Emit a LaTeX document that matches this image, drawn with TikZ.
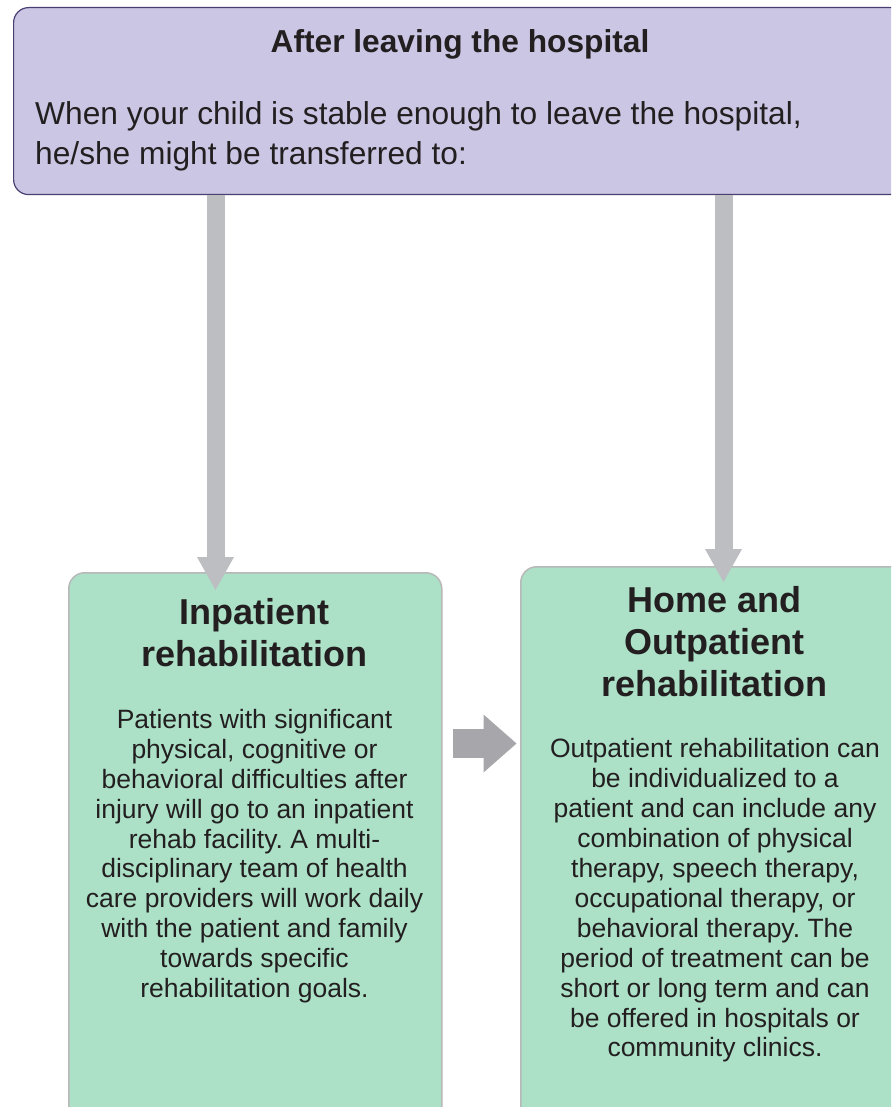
\documentclass[tikz,border=0pt]{standalone}
\usepackage{fontspec}
\setmainfont{Liberation Sans}
\usetikzlibrary{arrows.meta}
\frenchspacing
\definecolor{purplefill}{HTML}{CAC6E3}
\definecolor{purpleline}{HTML}{4A3F70}
\definecolor{greenfill}{HTML}{ACE1C8}
\definecolor{greenline}{HTML}{B8B8B8}
\definecolor{arrowlight}{HTML}{BDBEC2}
\definecolor{arrowdark}{HTML}{A7A7AB}
\definecolor{ink}{HTML}{231F20}
\begin{document}
\begin{tikzpicture}[x=1pt,y=-1pt,
  every node/.style={text=ink},
  topbox/.style={draw=purpleline, line width=1.2pt, fill=purplefill, rounded corners=15pt, anchor=north west, inner sep=0pt},
  greenbox/.style={draw=greenline, line width=1.5pt, fill=greenfill, rounded corners=16pt, anchor=north west, inner sep=0pt},
  varrow/.style={draw=arrowlight, line width=18pt, -{Triangle[width=37pt,length=33pt,line width=0pt]}},
  harrow/.style={draw=arrowdark, line width=29pt, -{Triangle[width=58pt,length=33pt,line width=0pt]}},
  headtext/.style={anchor=north, align=center, inner sep=0pt, font=\fontsize{31.7}{40}\selectfont\bfseries\frenchspacing},
  introtext/.style={anchor=north west, align=left, inner sep=0pt, font=\fontsize{31.7}{40}\selectfont\frenchspacing},
  boxtitle/.style={anchor=north, align=center, inner sep=0pt, font=\fontsize{36}{42}\selectfont\bfseries\frenchspacing},
  boxtext/.style={anchor=north, align=center, inner sep=0pt, font=\fontsize{26.5}{29.9}\selectfont\frenchspacing}]
\clip (0,0) rectangle (891,1107);
\fill[white] (0,0) rectangle (891,1107);
% boxes
\node[topbox, minimum width=892pt, minimum height=187pt] (top) at (13,7) {};
\node[greenbox, minimum width=373pt, minimum height=580pt] (inp) at (68,572) {};
\node[greenbox, minimum width=390pt, minimum height=580pt] (outp) at (520,566) {};
% connectors
\coordinate (tipL) at (215.5,590);
\coordinate (tipR) at (723.5,582);
\coordinate (hmid) at (480,743.5);
\draw[varrow] (top.south -| tipL) -- (tipL);
\draw[varrow] (top.south -| tipR) -- (tipR);
\draw[harrow, shorten <=10pt, shorten >=3.5pt] (inp.east |- hmid) -- (outp.west |- hmid);
% texts
\node[headtext] (head) at (460,29) {After leaving the hospital};
\node[introtext] (intro) at (35,101.5) {When your child is stable enough to leave the hospital,\\he/she might be transferred to:};
\node[boxtitle] (inpT) at (254.5,598.5) {Inpatient\\rehabilitation};
\node[boxtext] (inpB) at (254.5,709) {Patients with significant\\physical, cognitive or\\behavioral difficulties after\\injury will go to an inpatient\\rehab facility. A multi-\\disciplinary team of health\\care providers will work daily\\with the patient and family\\towards specific\\rehabilitation goals.};
\node[boxtitle] (outT) at (714.5,586.5) {Home and\\Outpatient\\rehabilitation};
\node[boxtext] (outB) at (715,738.5) {Outpatient rehabilitation can\\be individualized to a\\patient and can include any\\combination of physical\\therapy, speech therapy,\\occupational therapy, or\\behavioral therapy. The\\period of treatment can be\\short or long term and can\\be offered in hospitals or\\community clinics.};
\end{tikzpicture}
\end{document}
